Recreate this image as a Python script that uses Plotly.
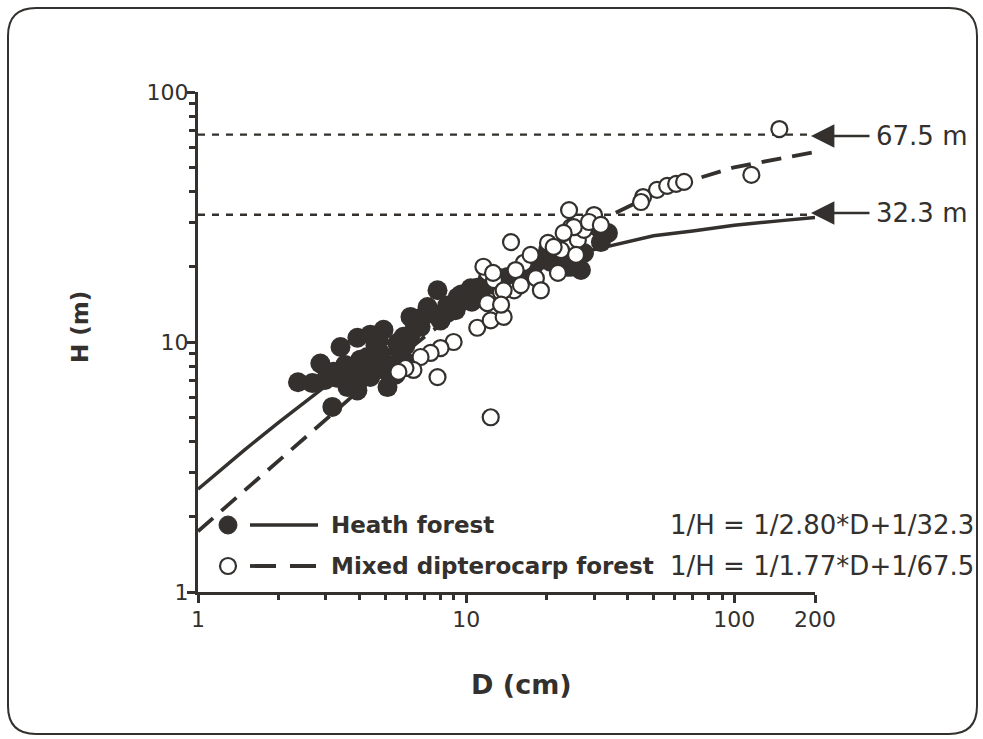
import plotly.graph_objects as go

# ---------------- data ----------------
heath_D = [2.36, 2.67, 2.86, 3.17, 3.40, 3.70, 3.61, 3.93, 4.39, 4.92, 4.28, 4.39, 5.09, 3.93, 4.79,
           5.54, 5.84, 6.36, 5.31, 4.59, 4.03, 3.54, 5.00, 5.45, 5.94, 6.20, 6.76, 5.84, 6.20, 7.18,
           7.82, 8.53, 9.29, 10.4, 8.03, 9.14, 9.96, 11.3, 12.0, 14.3, 14.7, 16.0, 19.0, 20.2, 22.6,
           24.6, 27.5, 23.9, 26.8, 31.0, 33.8, 31.8, 12.9, 17.4, 20.7, 3.30, 2.98,
           4.50, 4.00, 3.20, 7.50, 6.80, 8.50, 9.60, 10.5, 11.0, 12.5, 13.5, 15.0, 17.0, 18.0, 5.60, 4.70]
heath_H = [6.9, 6.85, 8.2, 5.5, 9.55, 7.7, 6.6, 10.4, 10.7, 11.2, 8.7, 7.25, 6.6, 6.4, 9.0,
           9.9, 8.5, 12.2, 8.1, 9.7, 8.5, 8.1, 7.7, 7.4, 9.7, 10.7, 11.5, 10.5, 12.6, 13.8,
           16.1, 13.1, 15.1, 16.4, 12.2, 13.4, 14.7, 15.4, 17.7, 18.2, 17.7, 19.4, 21.3, 23.3, 21.3,
           20.0, 22.7, 20.0, 19.4, 28.8, 27.3, 25.1, 16.9, 20.3, 20.9, 7.2, 7.05,
           8.0, 7.5, 7.6, 13.0, 12.5, 14.0, 15.5, 14.5, 16.5, 17.0, 18.0, 18.5, 19.5, 20.5, 9.3, 10.2]

mdf_D = [7.82, 8.98, 8.03, 7.37, 6.76, 6.36, 5.94, 5.59, 11.0, 12.35, 13.8, 12.0, 13.5, 15.1, 12.0,
         12.7, 14.7, 11.6, 12.6, 16.4, 18.2, 19.0, 13.8, 22.0, 20.2, 22.6, 24.6, 26.1, 27.5, 24.2,
         25.2, 23.1, 21.2, 30.0, 45.7, 51.5, 56.2, 60.7, 65.0, 115.8, 147.3, 12.35, 17.4, 15.3, 13.5,
         16.0, 25.7, 28.7, 31.8, 44.9]
mdf_H = [7.24, 10.0, 9.46, 9.04, 8.71, 7.73, 7.87, 7.59, 11.4, 12.2, 12.6, 14.3, 15.8, 16.1, 18.9,
         17.7, 25.1, 20.0, 18.9, 20.7, 18.0, 16.1, 16.1, 18.9, 24.9, 23.3, 28.8, 25.6, 28.1, 33.7,
         28.8, 27.3, 24.0, 32.2, 38.0, 40.6, 42.1, 42.9, 43.7, 46.6, 71.1, 5.0, 22.3, 19.4, 14.1,
         16.9, 22.3, 30.2, 29.4, 36.3]

# fitted curves
curve_D = [1, 1.5, 2, 3, 4, 5, 7, 10, 15, 20, 30, 50, 70, 100, 150, 200]
heath_fit_H = [2.58, 3.72, 4.77, 6.67, 8.32, 9.77, 12.2, 15.0, 18.3, 20.6, 23.4, 26.6, 27.8, 29.3, 30.6, 31.5]
mdf_fit_H = [1.75, 2.56, 3.37, 4.93, 6.42, 7.84, 10.5, 14.0, 19.1, 23.3, 29.8, 39.0, 44.5, 50.0, 54.5, 57.5]

hmax_values = [67.5, 32.3]
hmax_labels = ["67.5 m", "32.3 m"]
line_D_range = [1, 190]

x_ticks = [1, 10, 100, 200]
x_ticktext = ["1", "10", "100", "200"]
x_minor = [2, 3, 4, 5, 6, 7, 8, 9, 20, 30, 40, 50, 60, 70, 80, 90]
y_ticks = [1, 10, 100]
y_ticktext = ["1", "10", "100"]
y_minor = [2, 3, 4, 5, 6, 7, 8, 9, 20, 30, 40, 50, 60, 70, 80, 90]

legend_names = ["Heath forest", "Mixed dipterocarp forest"]
equations = ["1/H = 1/2.80*D+1/32.3", "1/H = 1/1.77*D+1/67.5"]

# ---------------- styling ----------------
INK = "#33302d"
FONT = "DejaVu Sans"
W, H = 983, 739
L, R, T, B = 198, 168, 92, 147
PW, PH = W - L - R, H - T - B


def px(xp):
    return (xp - L) / PW


def py(yp):
    return (H - B - yp) / PH


fig = go.Figure()

# reference lines at asymptotic heights
for hv in hmax_values:
    fig.add_trace(go.Scatter(x=line_D_range, y=[hv, hv], mode="lines",
                             line=dict(color=INK, width=2.4, dash="7px,7px"),
                             hoverinfo="skip", showlegend=False))

# fitted curves
fig.add_trace(go.Scatter(x=curve_D, y=mdf_fit_H, mode="lines",
                         line=dict(color=INK, width=3.8, dash="20px,11px"),
                         showlegend=False))
fig.add_trace(go.Scatter(x=curve_D, y=heath_fit_H, mode="lines",
                         line=dict(color=INK, width=3.4),
                         showlegend=False))

# data points
fig.add_trace(go.Scatter(x=heath_D, y=heath_H, mode="markers",
                         marker=dict(size=20, color=INK, line=dict(width=0)),
                         showlegend=False))
fig.add_trace(go.Scatter(x=mdf_D, y=mdf_H, mode="markers",
                         marker=dict(size=16, color="white", line=dict(width=2.2, color=INK)),
                         showlegend=False))

shapes = []
annotations = []

# rounded outer frame
x0, x1 = px(8), px(977)
y0, y1 = py(734), py(8)
rx, ry = 28 / PW, 28 / PH
path = (f"M {x0+rx},{y1} L {x1-rx},{y1} Q {x1},{y1} {x1},{y1-ry} "
        f"L {x1},{y0+ry} Q {x1},{y0} {x1-rx},{y0} L {x0+rx},{y0} "
        f"Q {x0},{y0} {x0},{y0+ry} L {x0},{y1-ry} Q {x0},{y1} {x0+rx},{y1} Z")
shapes.append(dict(type="path", xref="paper", yref="paper", path=path,
                   line=dict(color=INK, width=2)))

# legend keys
shapes.append(dict(type="circle", xref="paper", yref="paper",
                   x0=px(219), x1=px(237), y0=py(534), y1=py(516),
                   fillcolor=INK, line=dict(color=INK, width=1)))
shapes.append(dict(type="line", xref="paper", yref="paper",
                   x0=px(250), x1=px(318), y0=py(525), y1=py(525),
                   line=dict(color=INK, width=3.4)))
shapes.append(dict(type="circle", xref="paper", yref="paper",
                   x0=px(220), x1=px(236), y0=py(574), y1=py(558),
                   fillcolor="white", line=dict(color=INK, width=2.2)))
shapes.append(dict(type="line", xref="paper", yref="paper",
                   x0=px(250), x1=px(318), y0=py(566), y1=py(566),
                   line=dict(color=INK, width=3.8, dash="26px,14px")))

leg_y = [525, 566]
for i in range(2):
    annotations.append(dict(xref="paper", yref="paper", x=px(329), y=py(leg_y[i]),
                            text=f"<b>{legend_names[i]}</b>", showarrow=False,
                            xanchor="left", yanchor="middle",
                            font=dict(family=FONT, size=23, color=INK)))
    annotations.append(dict(xref="paper", yref="paper", x=px(976), y=py(leg_y[i]),
                            text=equations[i], showarrow=False,
                            xanchor="right", yanchor="middle",
                            font=dict(family=FONT, size=26, color=INK)))

# arrows and labels at right
arrow_y = [136, 213]
for i in range(2):
    annotations.append(dict(xref="paper", yref="paper", x=px(811), y=py(arrow_y[i]),
                            ax=60, ay=0, text="", showarrow=True,
                            arrowhead=2, arrowsize=1.8, arrowwidth=2.6, arrowcolor=INK))
    annotations.append(dict(xref="paper", yref="paper", x=px(874), y=py(arrow_y[i]),
                            text=hmax_labels[i], showarrow=False,
                            xanchor="left", yanchor="middle",
                            font=dict(family=FONT, size=26, color=INK)))

# axis titles
annotations.append(dict(xref="paper", yref="paper", x=px(521), y=py(684),
                        text="<b>D (cm)</b>", showarrow=False,
                        xanchor="center", yanchor="middle",
                        font=dict(family=FONT, size=27, color=INK)))
annotations.append(dict(xref="paper", yref="paper", x=px(80), y=py(327),
                        text="<b>H (m)</b>", showarrow=False, textangle=-90,
                        xanchor="center", yanchor="middle",
                        font=dict(family=FONT, size=23, color=INK)))

axis_common = dict(type="log", showgrid=False, zeroline=False, showline=True,
                   linewidth=3, linecolor=INK, ticks="outside", ticklen=8,
                   tickwidth=3, tickcolor=INK,
                   tickfont=dict(family=FONT, size=22, color=INK))

fig.update_layout(
    width=W, height=H,
    margin=dict(l=L, r=R, t=T, b=B, pad=0),
    paper_bgcolor="white", plot_bgcolor="white",
    showlegend=False,
    shapes=shapes, annotations=annotations,
    xaxis=dict(range=[0, 2.30103], tickvals=x_ticks, ticktext=x_ticktext,
               ticklabelstandoff=-2,
               minor=dict(tickvals=x_minor, ticks="outside", ticklen=5,
                          tickwidth=2.5, tickcolor=INK, showgrid=False),
               **axis_common),
    yaxis=dict(range=[0, 2], tickvals=y_ticks, ticktext=y_ticktext,
               ticklabelstandoff=-6,
               minor=dict(tickvals=y_minor, ticks="outside", ticklen=6,
                          tickwidth=2.5, tickcolor=INK, showgrid=False),
               **axis_common),
)

fig.write_html("out.html")
